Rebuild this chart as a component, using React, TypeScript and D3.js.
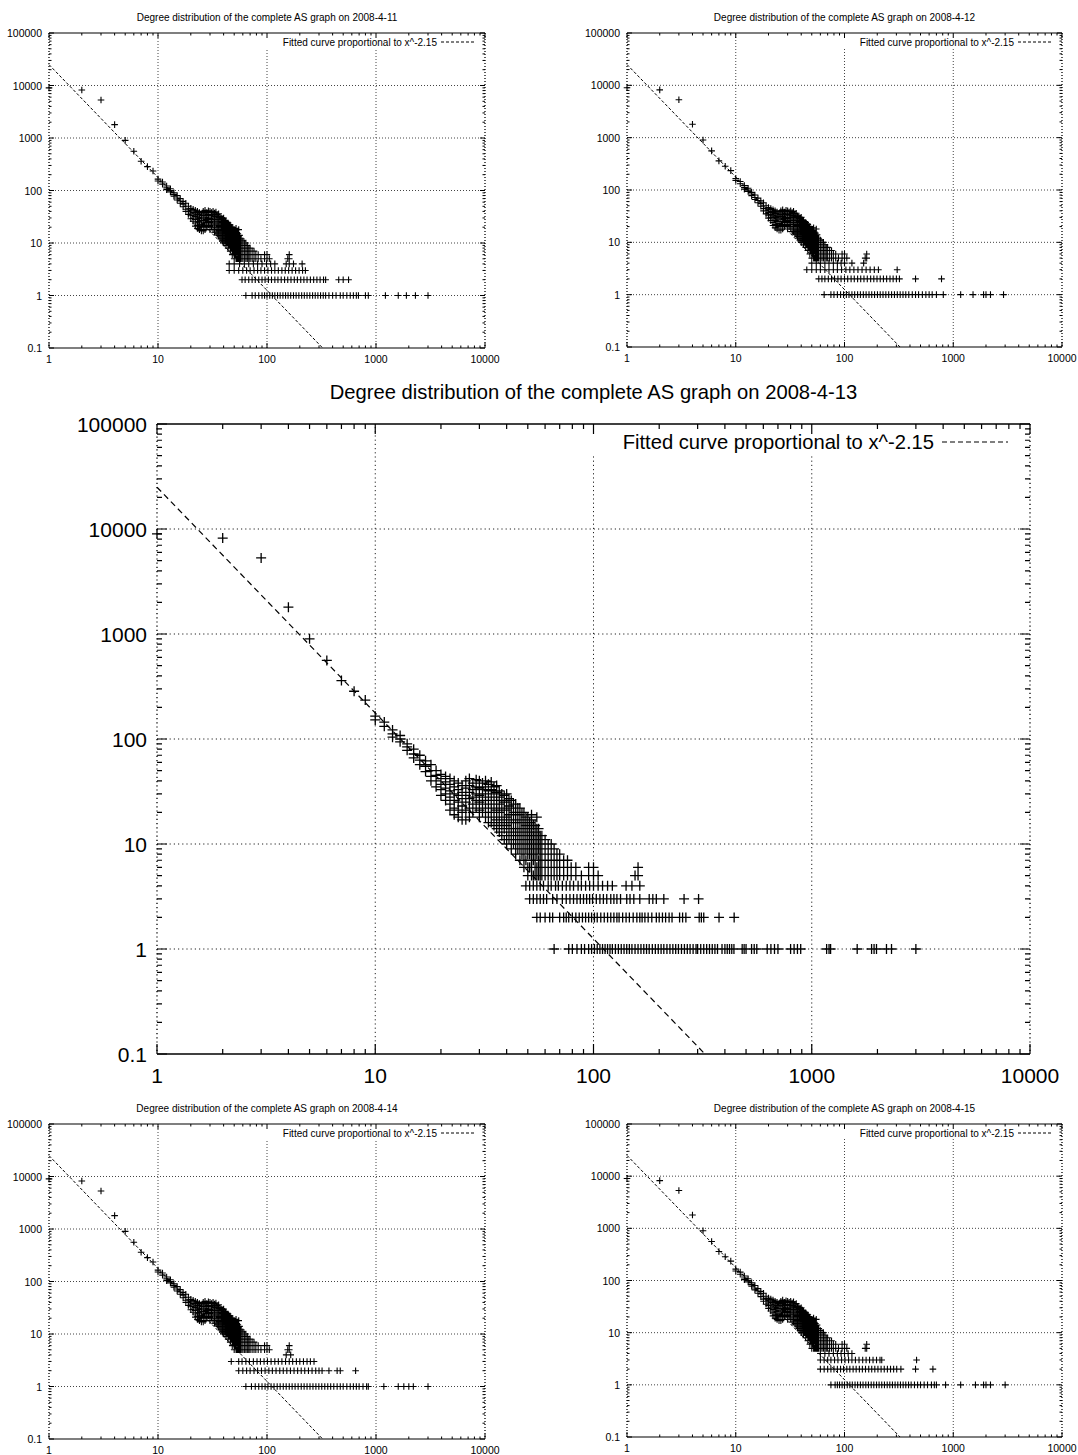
import React from "react";
import * as d3 from "d3";

// ---------- constants / text ----------
const X_DOMAIN = [1, 10000];
const Y_DOMAIN = [0.1, 100000];
const X_TICKS = [1, 10, 100, 1000, 10000];
const Y_TICKS = [0.1, 1, 10, 100, 1000, 10000, 100000];
const FIT_C = 25000;
const FIT_EXP = -2.15;
const LEGEND_TEXT = "Fitted curve proportional to x^-2.15";
const DATES = ["2008-4-11", "2008-4-12", "2008-4-13", "2008-4-14", "2008-4-15"];

// ---------- data: (degree, count) ----------
const HEAD_DEGREES = [1, 2, 3, 4, 5, 6, 7, 8, 9];
const HEAD_COUNTS = [9000, 8200, 5300, 1800, 900, 560, 360, 285, 235];

// [degree, counts...]
const CLOUD: number[][] = [
  [10, 165, 152], [11, 145, 132], [12, 122, 112, 104], [13, 108, 100, 94],
  [14, 90, 84, 78], [15, 80, 72, 66], [16, 70, 63, 57], [17, 62, 55, 49],
  [18, 57, 50, 44, 40], [19, 50, 45, 40, 35], [20, 46, 42, 37, 33, 29],
  [21, 44, 39, 34, 30, 26], [22, 42, 37, 32, 28, 24, 21], [23, 40, 35, 30, 26, 22, 19],
  [24, 38, 33, 29, 25, 21, 18], [25, 36, 31, 27, 23, 20, 17], [26, 40, 34, 29, 25, 21, 17],
  [27, 42, 36, 31, 27, 22, 18], [28, 38, 33, 28, 24, 20], [29, 41, 35, 30, 26, 22],
  [30, 40, 34, 29, 25, 21, 18], [31, 38, 33, 28, 24, 20], [32, 40, 35, 30, 26, 22, 18],
  [33, 37, 32, 28, 24, 20, 16], [34, 39, 33, 28, 24, 20, 16], [35, 35, 30, 26, 22, 18, 15],
  [36, 36, 31, 26, 21, 17, 14], [37, 32, 28, 24, 20, 16, 13], [38, 30, 26, 22, 18, 15, 12],
  [39, 29, 25, 21, 17, 14, 11], [40, 30, 25, 21, 18, 15, 12, 10], [41, 27, 23, 19, 16, 13, 11],
  [42, 26, 22, 19, 16, 13, 11, 9], [43, 24, 20, 17, 14, 12, 10], [44, 24, 20, 17, 14, 12, 10, 8],
  [45, 22, 19, 16, 13, 11, 9], [46, 22, 19, 16, 13, 11, 9, 7], [47, 20, 17, 14, 12, 10, 8],
  [48, 20, 17, 14, 12, 10, 8, 7, 6], [49, 18, 15, 13, 11, 9, 7], [50, 18, 15, 13, 11, 9, 8, 6, 5],
  [51, 16, 14, 12, 10, 8, 6], [52, 19, 17, 14, 12, 10, 8, 7, 6, 5], [53, 15, 12, 10, 8, 7, 5],
  [54, 15, 13, 11, 9, 8, 7, 6, 5], [55, 18, 14, 12, 10, 8, 6, 5], [56, 14, 12, 10, 9, 7, 6, 5],
  [57, 12, 10, 8, 7, 6, 5], [58, 12, 11, 9, 8, 7, 6, 5], [60, 11, 10, 9, 8, 7, 6, 5],
  [62, 10, 9, 8, 7, 6, 5], [64, 10, 8, 7, 6, 5], [66, 9, 8, 7, 6, 5], [68, 8, 7, 6, 5],
  [70, 8, 7, 6, 5], [73, 7, 6, 5], [76, 7, 6, 5], [79, 6, 5], [83, 6, 5], [88, 5],
  [95, 6, 5], [100, 6, 5], [105, 5], [155, 5], [160, 6, 5],
];

// degrees having count 1, 2, 3, 4 (per date)
const ROW1_0411 = [64, 73, 78, 84, 90, 95, 100, 106, 112, 118, 125, 132, 140, 148, 156, 165, 175, 185, 196, 208, 220, 233, 247, 262, 277, 293, 310, 328, 345, 370, 400, 430, 470, 500, 540, 580, 620, 660, 690, 800, 850, 1220, 1600, 1900, 2300, 3000];
const ROW2_0411 = [59, 63, 68, 73, 78, 84, 90, 96, 103, 110, 118, 126, 135, 145, 155, 166, 178, 190, 204, 218, 233, 250, 268, 287, 307, 330, 345, 455, 500, 560];
const ROW3_0411 = [45, 50, 55, 60, 65, 70, 76, 82, 88, 95, 102, 110, 118, 127, 137, 147, 158, 170, 183, 197, 212, 225];
const ROW4_0411 = [45, 50, 56, 62, 68, 75, 82, 90, 99, 108, 118, 150, 160, 175, 210];

const ROW1_0412 = [65, 75, 80, 86, 92, 98, 104, 110, 117, 124, 132, 140, 149, 158, 168, 178, 189, 201, 213, 226, 240, 255, 271, 288, 306, 325, 345, 366, 390, 420, 450, 480, 520, 560, 600, 640, 700, 810, 1170, 1520, 1900, 2000, 2200, 2900];
const ROW2_0412 = [58, 62, 66, 71, 76, 81, 87, 93, 100, 107, 115, 123, 132, 141, 151, 162, 174, 186, 199, 213, 228, 244, 262, 280, 300, 320, 450, 780];
const ROW3_0412 = [45, 50, 55, 60, 66, 72, 79, 86, 94, 103, 112, 122, 133, 145, 158, 172, 188, 205, 305];
const ROW4_0412 = [50, 55, 60, 66, 72, 79, 86, 93, 100, 117, 150];

const ROW1_0413 = [66, 77, 80, 84, 88, 91, 95, 98, 101, 104, 107, 110, 113, 116, 119, 122, 126, 130, 134, 138, 142, 146, 150, 155, 160, 165, 170, 175, 180, 186, 192, 198, 204, 210, 217, 224, 231, 238, 245, 253, 261, 269, 277, 286, 295, 300, 310, 320, 330, 340, 350, 360, 370, 388, 400, 410, 420, 430, 440, 480, 490, 500, 530, 545, 560, 625, 650, 675, 700, 800, 830, 860, 890, 1170, 1200, 1220, 1615, 1880, 1930, 1980, 2200, 2320, 3000];
const ROW2_0413 = [55, 57, 60, 63, 65, 70, 73, 75, 77, 80, 83, 86, 89, 92, 95, 98, 101, 104, 108, 112, 116, 120, 124, 128, 131, 136, 141, 146, 152, 158, 163, 167, 172, 178, 185, 194, 200, 207, 214, 222, 229, 248, 256, 265, 305, 312, 320, 376, 441];
const ROW3_0413 = [51, 53, 55, 57, 59, 61, 65, 68, 72, 75, 78, 81, 84, 87, 90, 93, 96, 99, 103, 107, 111, 115, 120, 124, 128, 133, 142, 147, 153, 163, 180, 187, 194, 210, 260, 303];
const ROW4_0413 = [49, 51, 53, 55, 57, 59, 62, 64, 67, 69, 72, 75, 78, 81, 85, 88, 92, 96, 100, 105, 110, 116, 122, 141, 150, 163];

const ROW1_0414 = [64, 72, 78, 84, 90, 96, 102, 109, 116, 124, 132, 141, 150, 160, 170, 181, 193, 206, 219, 233, 248, 264, 281, 299, 318, 339, 361, 384, 410, 440, 470, 500, 540, 580, 620, 660, 700, 760, 820, 850, 1180, 1600, 1800, 2000, 2200, 3000];
const ROW2_0414 = [55, 60, 65, 70, 76, 82, 89, 96, 104, 112, 121, 131, 141, 152, 164, 177, 191, 206, 222, 240, 259, 280, 300, 320, 370, 440, 470, 650];
const ROW3_0414 = [47, 55, 59, 64, 69, 75, 81, 87, 94, 101, 109, 118, 127, 137, 148, 160, 172, 186, 200, 216, 233, 250, 270];
const ROW4_0414 = [150, 165];

const ROW1_0415 = [75, 82, 86, 90, 95, 100, 106, 112, 118, 125, 132, 140, 148, 157, 166, 176, 186, 197, 208, 220, 233, 247, 261, 276, 292, 309, 327, 346, 366, 388, 410, 440, 470, 500, 540, 580, 630, 670, 700, 850, 1170, 1600, 1900, 2000, 2200, 3000];
const ROW2_0415 = [60, 65, 70, 75, 80, 86, 92, 98, 105, 112, 120, 128, 137, 146, 156, 167, 178, 190, 203, 217, 232, 248, 265, 283, 302, 330, 450, 650];
const ROW3_0415 = [60, 65, 70, 75, 81, 87, 94, 101, 109, 117, 126, 136, 147, 158, 170, 183, 197, 212, 220, 460];
const ROW4_0415 = [60, 66, 72, 79, 86, 93, 100, 108, 117];

const ROWS_BY_DATE: number[][][] = [
  [ROW1_0411, ROW2_0411, ROW3_0411, ROW4_0411],
  [ROW1_0412, ROW2_0412, ROW3_0412, ROW4_0412],
  [ROW1_0413, ROW2_0413, ROW3_0413, ROW4_0413],
  [ROW1_0414, ROW2_0414, ROW3_0414, ROW4_0414],
  [ROW1_0415, ROW2_0415, ROW3_0415, ROW4_0415],
];

function buildPoints(rows: number[][]): [number, number][] {
  const pts: [number, number][] = [];
  HEAD_DEGREES.forEach((d, i) => pts.push([d, HEAD_COUNTS[i]]));
  CLOUD.forEach(([d, ...cs]) => cs.forEach((c) => pts.push([d, c])));
  rows.forEach((degs, i) => degs.forEach((d) => pts.push([d, i + 1])));
  return pts;
}

const FONT = "'Liberation Sans', Arial, Helvetica, sans-serif";

type PanelProps = {
  left: number; right: number; top: number; bottom: number; k: number;
  title: string; rows: number[][]; tickFont: number; textFont: number;
};

function Panel({ left, right, top, bottom, k, title, rows, tickFont, textFont }: PanelProps) {
  const big = k === 1;
  const x = d3.scaleLog().domain(X_DOMAIN).range([left, right]);
  const y = d3.scaleLog().domain(Y_DOMAIN).range([bottom, top]);
  const pts = buildPoints(rows);
  const h = big ? 5 : 3.3;
  const plus = pts
    .map(([d, c]) => {
      const px = x(d), py = y(c);
      return `M${px - h},${py}H${px + h}M${px},${py - h}V${py + h}`;
    })
    .join("");

  const majorLen = 10 * k, minorLen = 5 * k;
  const minorX: number[] = [];
  X_TICKS.slice(0, -1).forEach((d) => { for (let m = 2; m <= 9; m++) minorX.push(d * m); });
  const minorY: number[] = [];
  Y_TICKS.slice(0, -1).forEach((d) => { for (let m = 2; m <= 9; m++) minorY.push(d * m); });

  const keyLeft = right - 444 * k;
  const keyBottom = top + 30 * k;
  const keyY = top + 18 * k;
  const textEnd = right - 96 * k;

  const gridDash = big ? "1.2,3" : "1,2";
  const gridColor = big ? "#222" : "#444";
  const lw = big ? 1.2 : 1;

  const xEnd = Math.pow(FIT_C / Y_DOMAIN[0], -1 / FIT_EXP);
  const fitLine = d3.line<number>().x((d) => x(d)).y((d) => y(FIT_C * Math.pow(d, FIT_EXP)));

  const ticks: string[] = [];
  X_TICKS.forEach((t) => {
    const px = x(t);
    ticks.push(`M${px},${bottom}V${bottom - majorLen}M${px},${top}V${top + majorLen}`);
  });
  minorX.forEach((t) => {
    const px = x(t);
    ticks.push(`M${px},${bottom}V${bottom - minorLen}M${px},${top}V${top + minorLen}`);
  });
  Y_TICKS.forEach((t) => {
    const py = y(t);
    ticks.push(`M${left},${py}H${left + majorLen}M${right},${py}H${right - majorLen}`);
  });
  minorY.forEach((t) => {
    const py = y(t);
    ticks.push(`M${left},${py}H${left + minorLen}M${right},${py}H${right - minorLen}`);
  });

  return (
    <g fontFamily={FONT}>
      <text x={(left + right) / 2} y={top - 32 * k} textAnchor="middle" dominantBaseline="central" fontSize={textFont}>
        {title}
      </text>
      {/* grid */}
      {X_TICKS.slice(1, -1).map((t) => (
        <line key={"gx" + t} x1={x(t)} x2={x(t)} y1={bottom} y2={x(t) > keyLeft ? keyBottom : top}
          stroke={gridColor} strokeWidth={1} strokeDasharray={gridDash} />
      ))}
      {Y_TICKS.slice(1, -1).map((t) => (
        <line key={"gy" + t} x1={left} x2={right} y1={y(t)} y2={y(t)}
          stroke={gridColor} strokeWidth={1} strokeDasharray={gridDash} />
      ))}
      {/* border */}
      <line x1={left} x2={right} y1={top} y2={top} stroke="#000" strokeWidth={big ? 1.4 : 1.1} />
      <line x1={left} x2={right} y1={bottom} y2={bottom} stroke="#000" strokeWidth={big ? 1.4 : 1.1} />
      <line x1={left} x2={left} y1={top} y2={bottom} stroke="#000" strokeWidth={1.3} strokeDasharray={gridDash} />
      <line x1={right} x2={right} y1={top} y2={bottom} stroke="#000" strokeWidth={1.3} strokeDasharray={gridDash} />
      <path d={ticks.join("")} stroke="#000" strokeWidth={lw} fill="none" />
      {/* tick labels */}
      {X_TICKS.map((t) => (
        <text key={"lx" + t} x={x(t)} y={bottom + 21 * k} textAnchor="middle" dominantBaseline="central" fontSize={tickFont}>
          {String(t)}
        </text>
      ))}
      {Y_TICKS.map((t) => (
        <text key={"ly" + t} x={left - (big ? 10 : 7)} y={y(t)} textAnchor="end" dominantBaseline="central" fontSize={tickFont}>
          {String(t)}
        </text>
      ))}
      {/* fit line */}
      <path d={fitLine([1, xEnd]) || ""} stroke="#000" strokeWidth={lw} fill="none"
        strokeDasharray={big ? "6,4" : "3,2"} />
      {/* data */}
      <path d={plus} stroke="#000" strokeWidth={big ? 1.3 : 1.1} fill="none" />
      {/* legend */}
      <text x={textEnd} y={keyY} textAnchor="end" dominantBaseline="central" fontSize={textFont}>
        {LEGEND_TEXT}
      </text>
      <line x1={right - 88 * k} x2={right - 22 * k} y1={keyY} y2={keyY} stroke="#000"
        strokeWidth={lw} strokeDasharray={big ? "5,3" : "3,2"} />
    </g>
  );
}

const PANELS = [
  { left: 49, right: 485, top: 33, bottom: 348, k: 0.5 },
  { left: 627, right: 1062, top: 33, bottom: 347, k: 0.5 },
  { left: 157, right: 1030, top: 424, bottom: 1054, k: 1 },
  { left: 49, right: 485, top: 1124, bottom: 1439, k: 0.5 },
  { left: 627, right: 1062, top: 1124, bottom: 1437, k: 0.5 },
];

export default function App() {
  return (
    <svg width={1078} height={1455} style={{ position: "absolute", left: 0, top: 0, background: "#fff" }}>
      <rect x={0} y={0} width={1078} height={1455} fill="#fff" />
      {PANELS.map((p, i) => (
        <Panel key={i} {...p}
          title={`Degree distribution of the complete AS graph on ${DATES[i]}`}
          rows={ROWS_BY_DATE[i]}
          tickFont={p.k === 1 ? 21 : 10.5}
          textFont={p.k === 1 ? 20.2 : 10} />
      ))}
    </svg>
  );
}
